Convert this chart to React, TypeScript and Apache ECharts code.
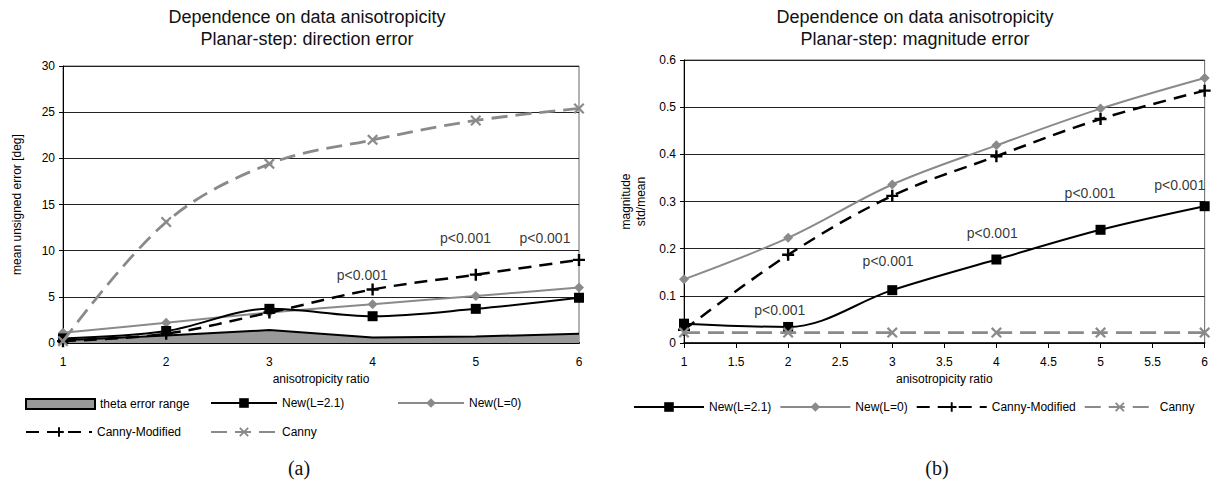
import React, { useEffect, useRef } from "react";
import * as echarts from "echarts";

// ---------- data ----------
const xValues = [1, 2, 3, 4, 5, 6];

// (a) direction error [deg]
const leftThetaRange = [0.3, 0.8, 1.4, 0.6, 0.7, 1.0];
const leftNew21 = [0.5, 1.3, 3.7, 2.9, 3.7, 4.9];
const leftNew0 = [1.1, 2.2, 3.3, 4.2, 5.1, 6.0];
const leftCannyMod = [0.2, 1.0, 3.3, 5.8, 7.4, 9.0];
const leftCanny = [0.2, 13.1, 19.4, 22.0, 24.1, 25.4];
const leftNotes = [
  [3.9, 7.4],
  [4.9, 11.4],
  [5.67, 11.4],
];

// (b) magnitude error std/mean
const rightNew21 = [0.041, 0.034, 0.112, 0.177, 0.24, 0.29];
const rightNew0 = [0.135, 0.223, 0.336, 0.419, 0.497, 0.562];
const rightCannyMod = [0.028, 0.187, 0.312, 0.396, 0.475, 0.535];
const rightCanny = [0.022, 0.022, 0.022, 0.022, 0.022, 0.022];
const rightNotes = [
  [1.92, 0.069],
  [2.96, 0.173],
  [3.96, 0.234],
  [4.9, 0.317],
  [5.76, 0.334],
];

const noteText = "p<0.001";
const titleLine1 = "Dependence on data anisotropicity";
const leftTitleLine2 = "Planar-step: direction error";
const rightTitleLine2 = "Planar-step: magnitude error";
const xName = "anisotropicity ratio";
const leftYName = "mean unsigned error [deg]";
const rightYName = "magnitude\nstd/mean";

// ---------- styles ----------
const FONT = "'Liberation Sans', Arial, Helvetica, sans-serif";
const GRAY = "#8a8a8a";
const PLUS = "path://M4,0H6V4H10V6H6V10H4V6H0V4H4Z";
const CROSS =
  "path://M1.4,0L5,3.6L8.6,0L10,1.4L6.4,5L10,8.6L8.6,10L5,6.4L1.4,10L0,8.6L3.6,5L0,1.4Z";

const pairs = (ys: number[]) => xValues.map((x, i) => [x, ys[i]]);

function seriesSet(d: {
  new21: number[];
  new0: number[];
  cannyMod: number[];
  canny: number[];
  notes: number[][];
}) {
  return [
    {
      type: "line",
      name: "New(L=2.1)",
      data: pairs(d.new21),
      smooth: 0.35,
      symbol: "rect",
      symbolSize: 10,
      itemStyle: { color: "#000" },
      lineStyle: { color: "#000", width: 2 },
      z: 4,
    },
    {
      type: "line",
      name: "New(L=0)",
      data: pairs(d.new0),
      smooth: 0.35,
      symbol: "diamond",
      symbolSize: 10,
      itemStyle: { color: GRAY },
      lineStyle: { color: GRAY, width: 2 },
      z: 3,
    },
    {
      type: "line",
      name: "Canny-Modified",
      data: pairs(d.cannyMod),
      smooth: 0.35,
      symbol: PLUS,
      symbolSize: 12,
      itemStyle: { color: "#000" },
      lineStyle: { color: "#000", width: 2.5, type: [13, 8] },
      z: 5,
    },
    {
      type: "line",
      name: "Canny",
      data: pairs(d.canny),
      smooth: 0.35,
      symbol: CROSS,
      symbolSize: 11,
      itemStyle: { color: GRAY },
      lineStyle: { color: GRAY, width: 2.8, type: [16, 8] },
      z: 6,
    },
    {
      type: "scatter",
      name: "notes",
      data: d.notes,
      symbolSize: 1,
      itemStyle: { color: "rgba(0,0,0,0)" },
      silent: true,
      z: 10,
      label: {
        show: true,
        position: "inside",
        formatter: noteText,
        fontFamily: FONT,
        fontSize: 14,
        color: "#000",
      },
    },
  ];
}

const axisText = { fontFamily: FONT, fontSize: 12, color: "#000" };

function titleGraphics(cx: number, line2: string, caption: string, capX: number) {
  const mk = (text: string, x: number, y: number, font: string) => ({
    type: "text",
    x,
    y,
    silent: true,
    style: {
      text,
      x: 0,
      y: 0,
      font,
      fill: "#111",
      align: "center",
      verticalAlign: "middle",
      textAlign: "center",
      textVerticalAlign: "middle",
    },
  });
  return [
    mk(titleLine1, cx, 17, `18px ${FONT}`),
    mk(line2, cx, 39, `18px ${FONT}`),
    mk(caption, capX, 468, `20px 'Liberation Serif', 'DejaVu Serif', serif`),
  ];
}

function buildLeft() {
  const legendBase = {
    orient: "horizontal",
    padding: 0,
    selectedMode: false,
    itemWidth: 66,
    itemHeight: 12,
    textStyle: { fontFamily: FONT, fontSize: 12, color: "#000" },
  };
  return {
    animation: false,
    backgroundColor: "#fff",
    graphic: titleGraphics(307, leftTitleLine2, "(a)", 299),
    legend: [
      {
        ...legendBase,
        left: 25,
        top: 398,
        itemHeight: 10,
        itemWidth: 69,
        data: [
          {
            name: "theta error range",
            icon: "rect",
            itemStyle: { color: "#999", borderColor: "#000", borderWidth: 2 },
          },
        ],
      },
      { ...legendBase, left: 210, top: 397, data: ["New(L=2.1)"] },
      { ...legendBase, left: 397, top: 397, data: ["New(L=0)"] },
      { ...legendBase, left: 25, top: 426, data: ["Canny-Modified"] },
      { ...legendBase, left: 210, top: 426, data: ["Canny"] },
    ],
    grid: {
      left: 63,
      top: 66,
      width: 516,
      height: 277,
      show: true,
      borderColor: "#666",
      borderWidth: 1,
    },
    xAxis: {
      type: "value",
      min: 1,
      max: 6,
      interval: 1,
      name: xName,
      nameLocation: "middle",
      nameGap: 30,
      nameTextStyle: axisText,
      axisLine: { show: true, lineStyle: { color: "#000", width: 2 } },
      axisTick: { show: false },
      axisLabel: { ...axisText, margin: 13 },
      splitLine: { show: false },
    },
    yAxis: {
      type: "value",
      min: 0,
      max: 30,
      interval: 5,
      name: leftYName,
      nameLocation: "middle",
      nameGap: 40,
      nameTextStyle: { fontFamily: FONT, fontSize: 12, color: "#000" },
      axisLine: { show: true, lineStyle: { color: "#000", width: 1 } },
      axisTick: { show: true, length: 4, lineStyle: { color: "#000" } },
      axisLabel: { ...axisText, margin: 8 },
      splitLine: { show: true, lineStyle: { color: "#222", width: 1 } },
    },
    series: [
      {
        type: "line",
        name: "theta error range",
        data: pairs(leftThetaRange),
        symbol: "none",
        smooth: false,
        lineStyle: { color: "#000", width: 2 },
        itemStyle: { color: "#999" },
        areaStyle: { color: "#999", opacity: 1 },
        z: 2,
      },
      ...seriesSet({
        new21: leftNew21,
        new0: leftNew0,
        cannyMod: leftCannyMod,
        canny: leftCanny,
        notes: leftNotes,
      }),
    ],
  };
}

function buildRight() {
  return {
    animation: false,
    backgroundColor: "#fff",
    graphic: titleGraphics(915 - 605, rightTitleLine2, "(b)", 937 - 605),
    legend: {
      orient: "horizontal",
      padding: 0,
      selectedMode: false,
      left: 28,
      top: 401,
      itemWidth: 70,
      itemHeight: 12,
      itemGap: 8,
      textStyle: { fontFamily: FONT, fontSize: 12, color: "#000" },
      data: ["New(L=2.1)", "New(L=0)", "Canny-Modified", "Canny"],
    },
    grid: {
      left: 79,
      top: 60,
      width: 521,
      height: 283,
      show: true,
      borderColor: "#666",
      borderWidth: 1,
    },
    xAxis: {
      type: "value",
      min: 1,
      max: 6,
      interval: 0.5,
      name: xName,
      nameLocation: "middle",
      nameGap: 30,
      nameTextStyle: axisText,
      axisLine: { show: true, lineStyle: { color: "#000", width: 1.5 } },
      axisTick: { show: true, length: 5, lineStyle: { color: "#000" } },
      axisLabel: { ...axisText, margin: 13 },
      splitLine: { show: false },
    },
    yAxis: {
      type: "value",
      min: 0,
      max: 0.6,
      interval: 0.1,
      name: rightYName,
      nameLocation: "middle",
      nameGap: 32,
      nameTextStyle: { fontFamily: FONT, fontSize: 12, color: "#000", lineHeight: 15 },
      axisLine: { show: true, lineStyle: { color: "#000", width: 1 } },
      axisTick: { show: true, length: 4, lineStyle: { color: "#000" } },
      axisLabel: {
        ...axisText,
        margin: 8,
        formatter: (v: number) => (v === 0 ? "0" : v.toFixed(1)),
      },
      splitLine: { show: true, lineStyle: { color: "#222", width: 1 } },
    },
    series: seriesSet({
      new21: rightNew21,
      new0: rightNew0,
      cannyMod: rightCannyMod,
      canny: rightCanny,
      notes: rightNotes,
    }),
  };
}

export default function App() {
  const leftRef = useRef<HTMLDivElement>(null);
  const rightRef = useRef<HTMLDivElement>(null);

  useEffect(() => {
    const l = echarts.init(leftRef.current!, null, { renderer: "svg" });
    const r = echarts.init(rightRef.current!, null, { renderer: "svg" });
    l.setOption(buildLeft() as any);
    r.setOption(buildRight() as any);
    return () => {
      l.dispose();
      r.dispose();
    };
  }, []);

  return (
    <div
      style={{
        position: "absolute",
        left: 0,
        top: 0,
        width: 1211,
        height: 486,
        background: "#fff",
      }}
    >
      <div
        ref={leftRef}
        style={{ position: "absolute", left: 0, top: 0, width: 605, height: 486 }}
      />
      <div
        ref={rightRef}
        style={{ position: "absolute", left: 605, top: 0, width: 606, height: 486 }}
      />
    </div>
  );
}
